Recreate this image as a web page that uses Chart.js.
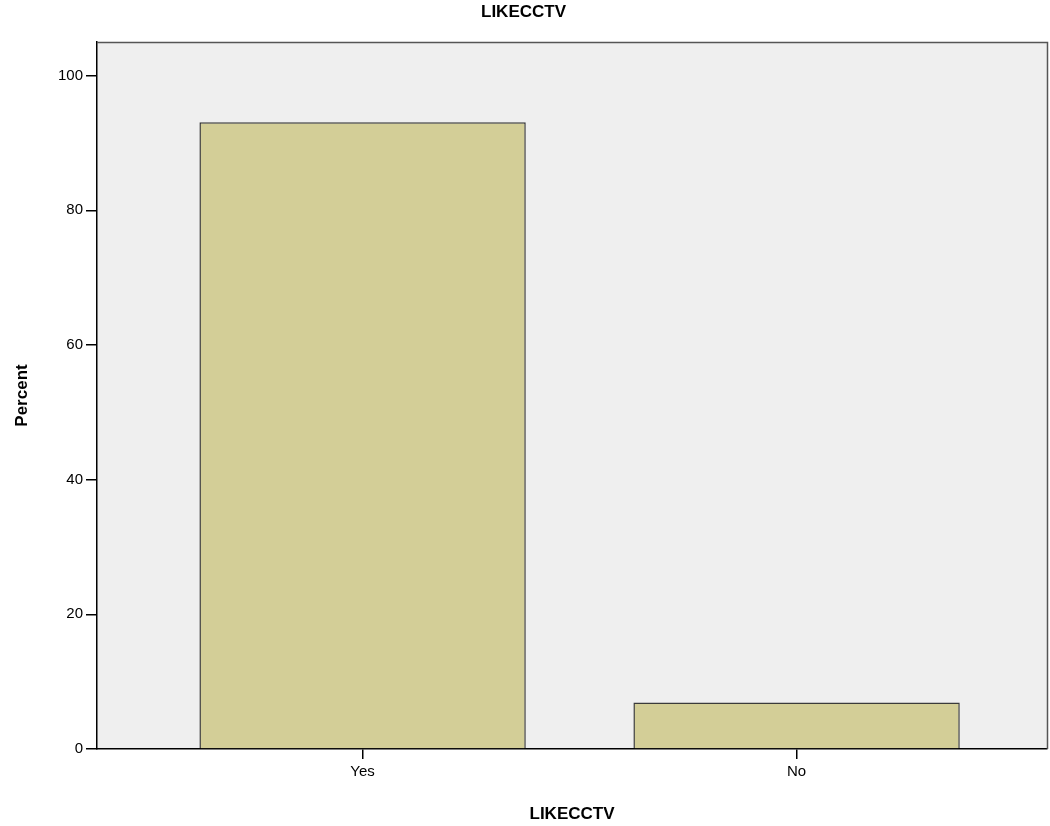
<!DOCTYPE html>
<html>
<head>
<meta charset="utf-8">
<script src="https://cdn.jsdelivr.net/npm/chart.js@4"></script>
<style>
  html, body { margin: 0; padding: 0; background: #fff; }
  #wrap { width: 1050px; height: 826px; }
</style>
</head>
<body>
<div id="wrap"><canvas id="chart"></canvas></div>
<script>
const categories = ['Yes', 'No'];
const percents = [93.1, 6.9];
const yTicks = [0, 20, 40, 60, 80, 100];

// plot frame: grey panel with a thin border on top/right
const framePlugin = {
    id: 'frame',
    beforeDraw(chart) {
        const a = chart.chartArea, ctx = chart.ctx;
        ctx.save();
        ctx.fillStyle = '#efefef';
        ctx.fillRect(a.left, a.top, a.right - a.left, a.bottom - a.top);
        ctx.restore();
    },
    afterDraw(chart) {
        const a = chart.ctx, c = chart.chartArea;
        a.save();
        a.strokeStyle = '#555';
        a.lineWidth = 1.5;
        a.beginPath();
        a.moveTo(c.left, c.top + 0.5);
        a.lineTo(c.right + 0.5, c.top + 0.5);
        a.lineTo(c.right + 0.5, c.bottom);
        a.stroke();
        a.restore();
    }
};

function init() {
    const ctx = document.getElementById('chart').getContext('2d');
    window.barChart = new Chart(ctx, {
        type: 'bar',
        data: {
            datasets: [{
                label: 'Percent',
                data: categories.map((c, i) => ({ x: i, y: percents[i] })),
                backgroundColor: '#d3ce97',
                borderColor: '#3a3a3a',
                borderWidth: 1.5,
                barPercentage: 0.752,
                categoryPercentage: 1
            }]
        },
        options: {
            responsive: true,
            maintainAspectRatio: false,
            animation: false,
            layout: { padding: { left: 0, right: 3, top: 0, bottom: 0 } },
            plugins: {
                legend: { display: false },
                tooltip: { enabled: false },
                title: {
                    display: true,
                    text: 'LIKECCTV',
                    color: '#000',
                    font: { family: 'Liberation Sans, Arial, sans-serif', size: 17, weight: 'bold' },
                    padding: { top: 2, bottom: 19.6 }
                }
            },
            scales: {
                x: {
                    type: 'linear',
                    offset: false,
                    min: -0.612,
                    max: 1.577,
                    afterBuildTicks: (scale) => {
                        scale.ticks = categories.map((c, i) => ({ value: i }));
                    },
                    afterFit: (scale) => { scale.height = 77; },
                    ticks: {
                        callback: (v) => categories[v],
                        color: '#000',
                        padding: 4,
                        font: { family: 'Liberation Sans, Arial, sans-serif', size: 15 }
                    },
                    grid: { offset: false, drawOnChartArea: false, drawTicks: true, tickLength: 10, color: '#000', lineWidth: 1.5 },
                    border: { display: true, color: '#000', width: 1.5 },
                    title: {
                        display: true,
                        text: 'LIKECCTV',
                        color: '#000',
                        font: { family: 'Liberation Sans, Arial, sans-serif', size: 17, weight: 'bold' },
                        padding: { top: 0, bottom: 1 }
                    }
                },
                y: {
                    min: 0,
                    max: 105,
                    afterBuildTicks: (scale) => {
                        scale.ticks = yTicks.map(v => ({ value: v }));
                    },
                    afterFit: (scale) => { scale.width = 97; },
                    ticks: {
                        color: '#000',
                        padding: 3,
                        font: { family: 'Liberation Sans, Arial, sans-serif', size: 15 }
                    },
                    grid: { drawOnChartArea: false, drawTicks: true, tickLength: 11, color: '#000', lineWidth: 1.5 },
                    border: { display: true, color: '#000', width: 1.5 },
                    title: {
                        display: true,
                        text: 'Percent',
                        color: '#000',
                        font: { family: 'Liberation Sans, Arial, sans-serif', size: 17, weight: 'bold' },
                        padding: { top: 12, bottom: 4 }
                    }
                }
            }
        },
        plugins: [framePlugin]
    });
}

document.addEventListener('DOMContentLoaded', init);
</script>
</body>
</html>
